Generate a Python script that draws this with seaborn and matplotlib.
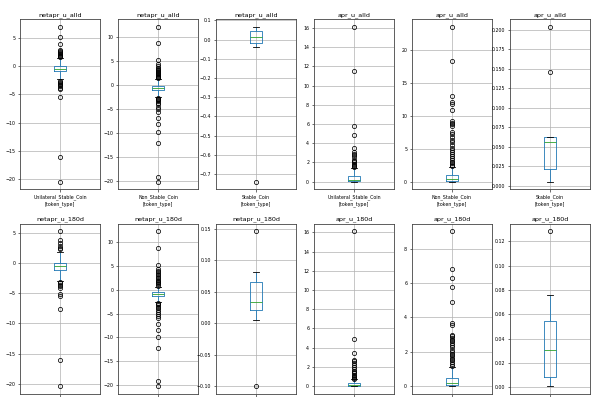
import pandas as pd
import matplotlib
matplotlib.use("Agg")
import matplotlib.pyplot as plt
import seaborn as sns

# Box statistics: [lower whisker, Q1, median, Q3, upper whisker]
# and the outlier points of each panel.
box_netapr_alld_uni = [-2.3, -0.95, -0.45, 0.05, 1.45]
out_netapr_alld_uni = [-20.4, -16.1, -5.5, -4.1, -3.9, -3.6, -3.4, -3.2, -3.0, -2.8, -2.6,
                       1.6, 1.7, 1.8, 1.95, 2.05, 2.2, 2.5, 2.7, 2.9, 3.9, 5.1, 6.9]

box_netapr_alld_non = [-2.45, -1.1, -0.63, -0.15, 1.2]
out_netapr_alld_non = [-20.2, -19.2, -12.0, -9.9, -8.2, -6.9, -5.7, -5.0, -4.5, -4.0, -3.7,
                       -3.4, -3.2, -3.0, -2.8, -2.6,
                       1.4, 1.6, 1.8, 2.0, 2.2, 2.4, 2.6, 2.8, 3.0, 3.2, 3.4, 3.6, 3.9,
                       4.4, 5.2, 8.8, 12.2]

box_netapr_alld_stb = [-0.036, -0.017, 0.012, 0.044, 0.067]
out_netapr_alld_stb = [-0.74]

box_apr_alld_uni = [0.0, 0.03, 0.15, 0.6, 1.42]
out_apr_alld_uni = [1.5, 1.6, 1.7, 1.8, 2.0, 2.2, 2.3, 2.6, 2.8, 2.9, 3.1, 3.5,
                    4.9, 5.8, 11.5, 16.1]

box_apr_alld_non = [0.0, 0.1, 0.4, 1.0, 2.2]
out_apr_alld_non = [2.4, 2.6, 2.8, 3.0, 3.3, 3.6, 3.9, 4.2, 4.5, 4.8, 5.2, 5.6, 6.0, 6.4,
                    6.8, 7.2, 7.5, 8.5, 8.8, 9.0, 9.3, 10.9, 11.9, 12.1, 13.1, 18.4, 23.6]

box_apr_alld_stb = [0.005, 0.021, 0.0553, 0.0622, 0.0628]
out_apr_alld_stb = [0.146, 0.2036]

box_netapr_180d_uni = [-3.0, -1.25, -0.55, 0.0, 1.7]
out_netapr_180d_uni = [-20.4, -16.1, -7.7, -5.5, -5.2, -4.2, -3.9, -3.6, -3.4, -3.2,
                       2.2, 2.5, 2.8, 3.2, 3.7, 5.2]

box_netapr_180d_non = [-2.6, -1.4, -0.94, -0.55, 0.6]
out_netapr_180d_non = [-20.2, -19.1, -12.1, -10.0, -8.4, -7.2, -6.0, -5.5, -5.0, -4.6,
                       -4.2, -3.9, -3.6, -3.3, -3.0, -2.8,
                       0.8, 1.1, 1.3, 1.5, 1.8, 2.1, 2.4, 2.7, 3.0, 3.3, 3.6, 3.9,
                       4.4, 5.2, 8.8, 12.2]

box_netapr_180d_stb = [0.005, 0.021, 0.0335, 0.065, 0.081]
out_netapr_180d_stb = [-0.10, 0.146]

box_apr_180d_uni = [0.0, 0.05, 0.12, 0.34, 0.74]
out_apr_180d_uni = [0.8, 0.9, 1.0, 1.1, 1.2, 1.35, 1.5, 1.6, 1.8, 2.0, 2.2, 2.4, 2.6,
                    2.7, 3.5, 4.9, 16.1]

box_apr_180d_non = [0.0, 0.05, 0.18, 0.5, 1.12]
out_apr_180d_non = [1.2, 1.3, 1.4, 1.5, 1.6, 1.7, 1.8, 1.9, 2.0, 2.1, 2.3, 2.4, 2.5,
                    2.6, 2.7, 2.8, 2.9, 3.0, 3.55, 3.65, 4.9, 5.75, 6.3, 6.8, 9.0]

box_apr_180d_stb = [0.001, 0.0085, 0.0307, 0.0542, 0.0756]
out_apr_180d_stb = [0.1283]

metrics = ["netapr_u_alld", "netapr_u_alld", "netapr_u_alld",
           "apr_u_alld", "apr_u_alld", "apr_u_alld",
           "netapr_u_180d", "netapr_u_180d", "netapr_u_180d",
           "apr_u_180d", "apr_u_180d", "apr_u_180d"]
token_types = ["Unilateral_Stable_Coin", "Non_Stable_Coin", "Stable_Coin"] * 4

boxes = [box_netapr_alld_uni, box_netapr_alld_non, box_netapr_alld_stb,
         box_apr_alld_uni, box_apr_alld_non, box_apr_alld_stb,
         box_netapr_180d_uni, box_netapr_180d_non, box_netapr_180d_stb,
         box_apr_180d_uni, box_apr_180d_non, box_apr_180d_stb]
outliers = [out_netapr_alld_uni, out_netapr_alld_non, out_netapr_alld_stb,
            out_apr_alld_uni, out_apr_alld_non, out_apr_alld_stb,
            out_netapr_180d_uni, out_netapr_180d_non, out_netapr_180d_stb,
            out_apr_180d_uni, out_apr_180d_non, out_apr_180d_stb]


def build_sample(box, outs):
    # sample whose quartiles / whiskers / fliers reproduce the read statistics
    wlo, q1, med, q3, whi = box
    lows = [v for v in outs if v < med]
    highs = [v for v in outs if v > med]
    n_low, n_high = len(lows), len(highs)
    a = max(n_low + 1, 2 * n_high - n_low + 1, 3) + 1
    b = a + n_low - n_high
    return lows + [wlo] + [q1] * a + [med] + [q3] * b + [whi] + highs


def main():
    plt.rcParams.update({
        "font.family": ["DejaVu Sans"],
        "axes.linewidth": 0.6,
        "axes.edgecolor": "#444444",
        "xtick.major.size": 1.8,
        "ytick.major.size": 1.8,
        "xtick.major.width": 0.4,
        "ytick.major.width": 0.4,
        "xtick.major.pad": 1.5,
        "ytick.major.pad": 1.5,
    })

    fig, axes = plt.subplots(2, 6, figsize=(6.0, 3.97), dpi=100)
    fig.subplots_adjust(left=20 / 600, right=590 / 600, top=0.952, bottom=0.0076,
                        wspace=0.22, hspace=0.2)

    for i, (ax, metric, token, box, outs) in enumerate(
            zip(axes.flat, metrics, token_types, boxes, outliers)):
        values = build_sample(box, outs)
        df = pd.DataFrame({"token_type": [token] * len(values), metric: values})
        sns.boxplot(
            data=df, x="token_type", y=metric, ax=ax,
            width=0.15, fill=False, whis=1.5, linewidth=0.6,
            boxprops=dict(color="#1f77b4"),
            whiskerprops=dict(color="#1f77b4"),
            capprops=dict(color="black"),
            medianprops=dict(color="#2ca02c"),
            flierprops=dict(marker="o", markersize=3.0, markerfacecolor="none",
                            markeredgecolor="black", markeredgewidth=0.55),
        )
        ax.set_title(metric, fontsize=4.6, pad=2)
        ax.set_ylabel("")
        if i < 6:
            ax.set_xlabel("[token_type]", fontsize=3.4, labelpad=1)
        else:
            # bottom row labels fall below the picture edge in the reference
            ax.set_xlabel("")
            ax.set_xticklabels([])
        ax.tick_params(labelsize=3.4)
        ax.grid(True, color="#b0b0b0", linewidth=0.5)
        ax.set_axisbelow(True)

    fig.savefig("out.png", dpi=100)
    plt.close(fig)


if __name__ == "__main__":
    main()
